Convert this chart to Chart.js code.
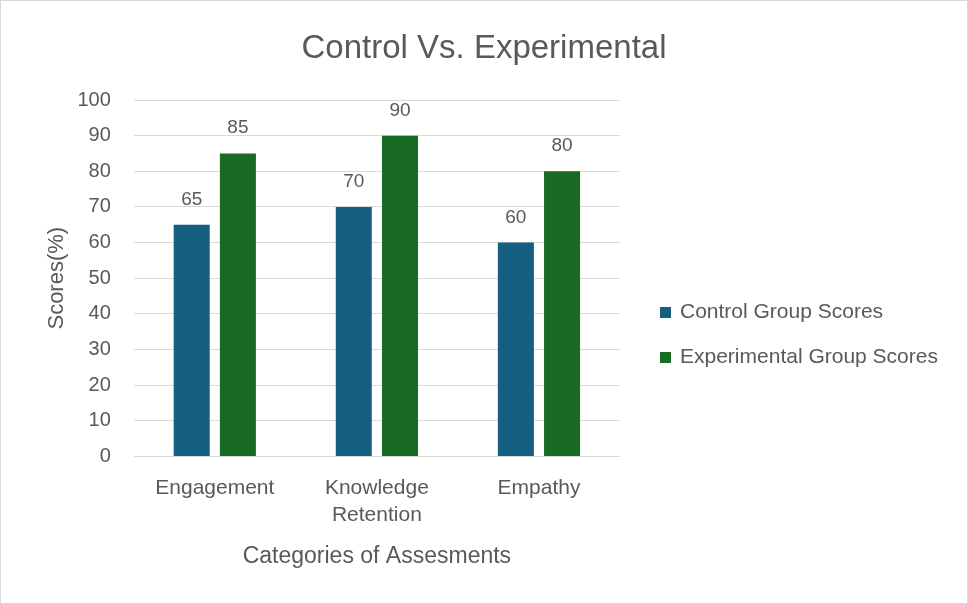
<!DOCTYPE html>
<html>
<head>
<meta charset="utf-8">
<script src="https://cdn.jsdelivr.net/npm/chart.js@4.4.1/dist/chart.umd.min.js"></script>
<style>
html,body{margin:0;padding:0;background:#fff;}
#c{position:absolute;left:0;top:0;}
#frame{position:absolute;left:0;top:0;width:966px;height:602px;border:1px solid #d9d9d9;pointer-events:none;}
</style>
</head>
<body>
<canvas id="c" width="968" height="604"></canvas>
<div id="frame"></div>
<script>
const categories = ["Engagement", ["Knowledge", "Retention"], "Empathy"];
const controlScores = [65, 70, 60];
const experimentalScores = [85, 90, 80];
const seriesNames = ["Control Group Scores", "Experimental Group Scores"];
const seriesColors = ["#156082", "#196b24"];
const titleText = "Control Vs. Experimental";
const xTitle = "Categories of Assesments";
const yTitle = "Scores(%)";

const FONT = "'Liberation Sans', Arial, sans-serif";
const TXT = "#595959";

const valueLabels = {
  id: "valueLabels",
  afterDatasetsDraw(chart) {
    const ctx = chart.ctx;
    ctx.save();
    ctx.font = "19px " + FONT;
    ctx.fillStyle = TXT;
    ctx.textAlign = "center";
    ctx.textBaseline = "alphabetic";
    chart.data.datasets.forEach((ds, i) => {
      const meta = chart.getDatasetMeta(i);
      meta.data.forEach((el, j) => {
        ctx.fillText(String(ds.data[j]), el.x, el.y - 20);
      });
    });
    ctx.restore();
  }
};

const titleAndLegend = {
  id: "titleAndLegend",
  afterDraw(chart) {
    const ctx = chart.ctx;
    const a = chart.chartArea;
    ctx.save();
    // title centred on the whole canvas
    ctx.font = "33px " + FONT;
    ctx.fillStyle = TXT;
    ctx.textAlign = "center";
    ctx.textBaseline = "alphabetic";
    ctx.fillText(titleText, chart.width / 2, a.top - 42);
    // legend
    ctx.font = "21px " + FONT;
    ctx.textBaseline = "middle";
    ctx.textAlign = "left";
    chart.data.datasets.forEach((ds, i) => {
      const cy = a.top + 212 + i * 45;
      const bx = a.right + 40;
      ctx.fillStyle = ds.backgroundColor;
      ctx.fillRect(bx, cy - 5, 11, 11);
      ctx.fillStyle = TXT;
      ctx.fillText(ds.label, bx + 20, cy);
    });
    ctx.restore();
  }
};

new Chart(document.getElementById("c"), {
  type: "bar",
  data: {
    labels: categories,
    datasets: [
      { label: seriesNames[0], data: controlScores, backgroundColor: seriesColors[0], categoryPercentage: 0.57, barPercentage: 0.78 },
      { label: seriesNames[1], data: experimentalScores, backgroundColor: seriesColors[1], categoryPercentage: 0.57, barPercentage: 0.78 }
    ]
  },
  options: {
    responsive: false,
    animation: false,
    layout: { padding: { top: 100, right: 348, bottom: 30, left: 44 } },
    plugins: {
      title: { display: false },
      legend: { display: false },
      tooltip: { enabled: false }
    },
    scales: {
      x: {
        grid: { display: false },
        border: { display: false },
        ticks: { color: TXT, font: { family: FONT, size: 21, lineHeight: 1.286 }, padding: 10 },
        title: { display: true, text: xTitle, color: TXT, font: { family: FONT, size: 23 }, padding: { top: 4, bottom: 4 } }
      },
      y: {
        min: 0, max: 100,
        grid: { color: "#d9d9d9", drawTicks: false },
        border: { display: false },
        ticks: { stepSize: 10, color: TXT, font: { family: FONT, size: 20 }, padding: 23 },
        title: { display: true, text: yTitle, color: TXT, font: { family: FONT, size: 22 }, padding: { top: 0, bottom: -16 } }
      }
    }
  },
  plugins: [valueLabels, titleAndLegend]
});
</script>
</body>
</html>
